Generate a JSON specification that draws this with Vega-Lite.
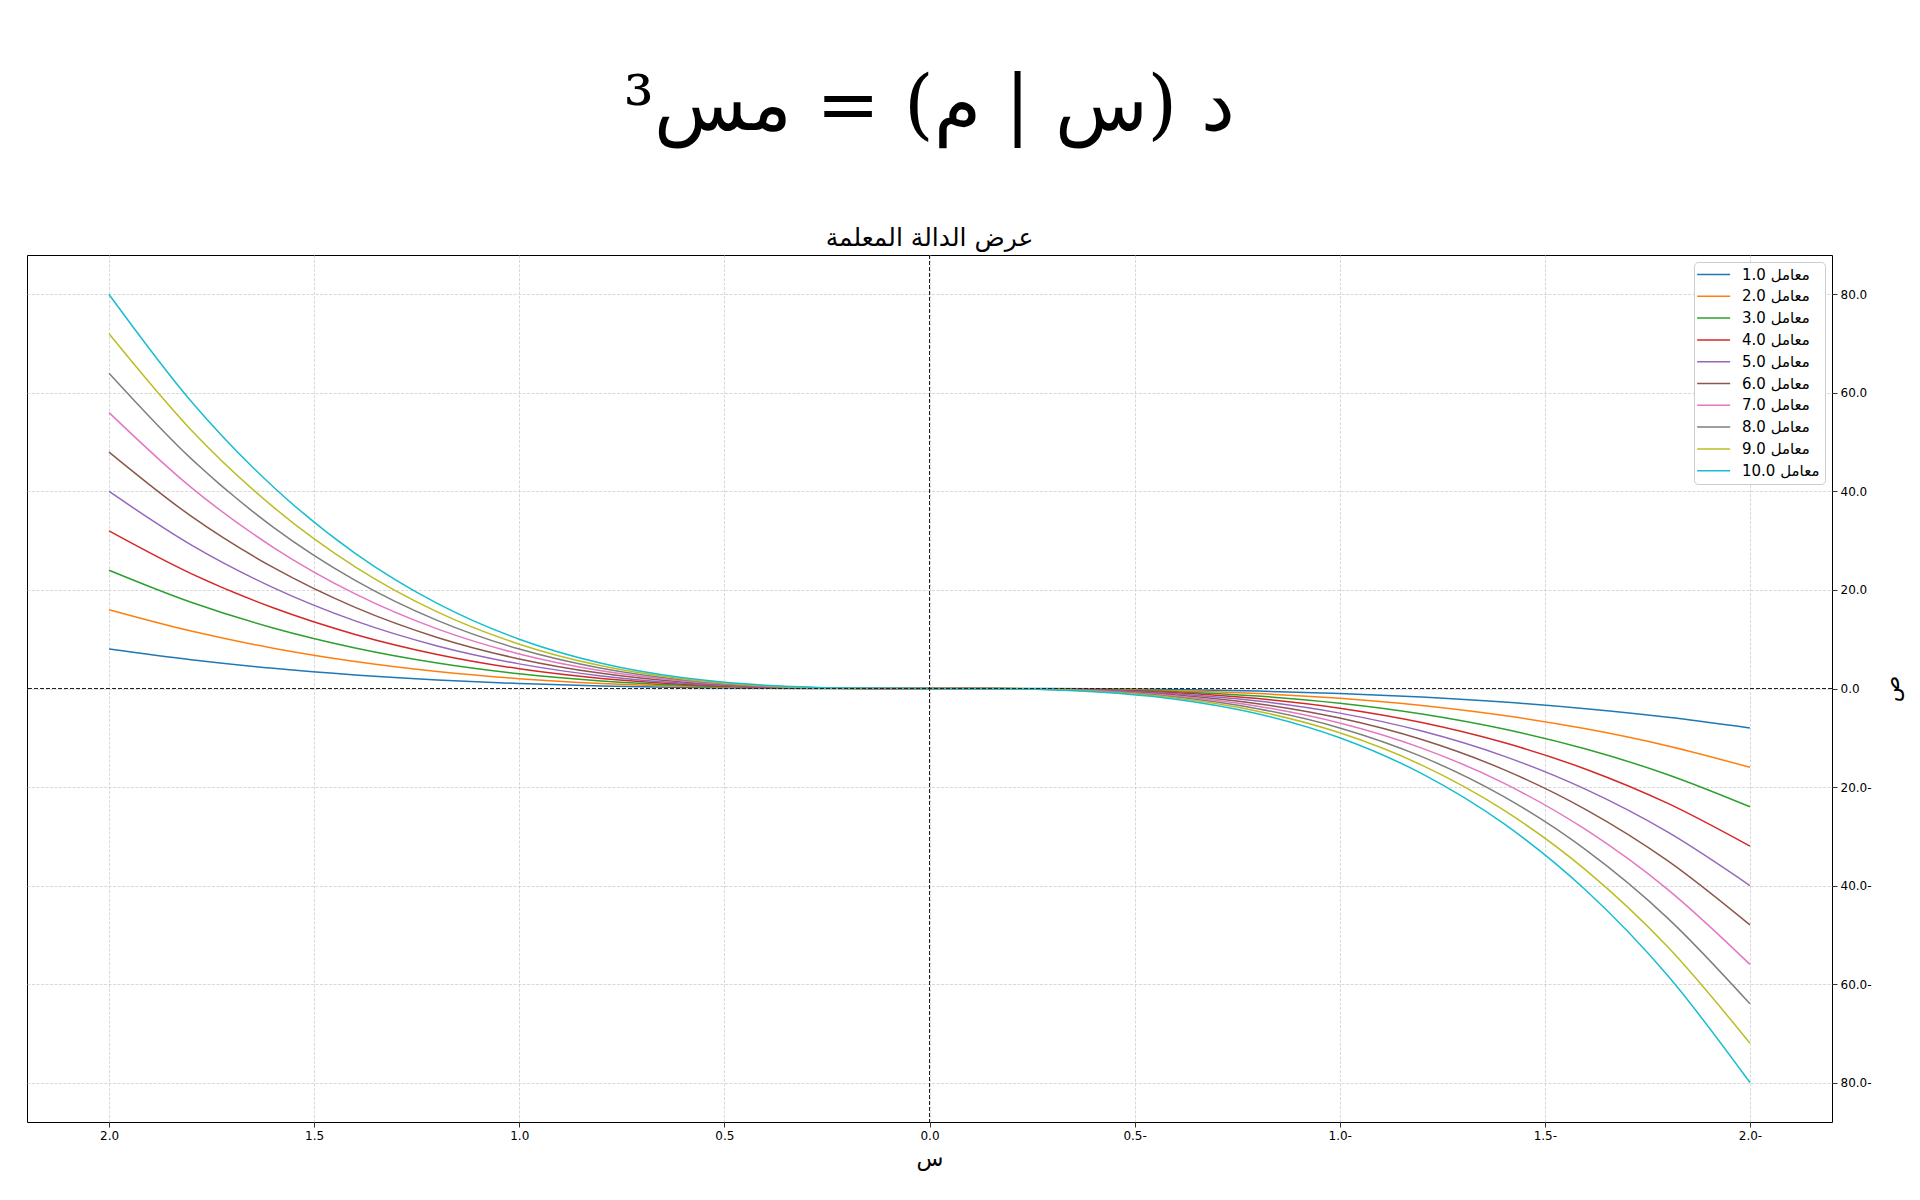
{
  "$schema": "https://vega.github.io/schema/vega-lite/v6.json",
  "width": 1805,
  "height": 867,
  "autosize": {"type": "none"},
  "padding": {"left": 27, "top": 255, "right": 88, "bottom": 78},
  "background": "white",
  "title": {
    "text": "د (س | م) = مس³",
    "subtitle": "عرض الدالة المعلمة",
    "anchor": "middle",
    "font": "DejaVu Serif",
    "fontSize": 76,
    "fontWeight": "normal",
    "color": "black",
    "subtitleFont": "DejaVu Sans",
    "subtitleFontSize": 25,
    "subtitleColor": "black",
    "subtitlePadding": 80,
    "offset": 3
  },
  "config": {
    "view": {"stroke": "black", "strokeWidth": 1},
    "axis": {
      "domain": false,
      "ticks": true,
      "tickColor": "black",
      "tickSize": 5,
      "tickWidth": 0.8,
      "labelColor": "black",
      "labelFont": "DejaVu Sans",
      "labelFontSize": 12,
      "labelPadding": 3,
      "grid": true,
      "gridColor": "#cfcfcf",
      "gridDash": [3, 1.5],
      "gridWidth": 0.8,
      "titleFont": "DejaVu Sans",
      "titleFontWeight": "normal",
      "titleColor": "black",
      "titleFontSize": 22
    },
    "legend": {
      "labelFont": "DejaVu Sans",
      "labelFontSize": 15,
      "labelColor": "black"
    }
  },
  "layer": [
    {
      "data": {"values": [
        {"m":1,"x":-2,"y":-8},{"m":1,"x":-1.8,"y":-5.832},{"m":1,"x":-1.6,"y":-4.096},{"m":1,"x":-1.4,"y":-2.744},{"m":1,"x":-1.2,"y":-1.728},{"m":1,"x":-1,"y":-1},{"m":1,"x":-0.8,"y":-0.512},{"m":1,"x":-0.6,"y":-0.216},{"m":1,"x":-0.4,"y":-0.064},{"m":1,"x":-0.2,"y":-0.008},{"m":1,"x":0,"y":0},{"m":1,"x":0.2,"y":0.008},{"m":1,"x":0.4,"y":0.064},{"m":1,"x":0.6,"y":0.216},{"m":1,"x":0.8,"y":0.512},{"m":1,"x":1,"y":1},{"m":1,"x":1.2,"y":1.728},{"m":1,"x":1.4,"y":2.744},{"m":1,"x":1.6,"y":4.096},{"m":1,"x":1.8,"y":5.832},{"m":1,"x":2,"y":8},
        {"m":2,"x":-2,"y":-16},{"m":2,"x":-1.8,"y":-11.664},{"m":2,"x":-1.6,"y":-8.192},{"m":2,"x":-1.4,"y":-5.488},{"m":2,"x":-1.2,"y":-3.456},{"m":2,"x":-1,"y":-2},{"m":2,"x":-0.8,"y":-1.024},{"m":2,"x":-0.6,"y":-0.432},{"m":2,"x":-0.4,"y":-0.128},{"m":2,"x":-0.2,"y":-0.016},{"m":2,"x":0,"y":0},{"m":2,"x":0.2,"y":0.016},{"m":2,"x":0.4,"y":0.128},{"m":2,"x":0.6,"y":0.432},{"m":2,"x":0.8,"y":1.024},{"m":2,"x":1,"y":2},{"m":2,"x":1.2,"y":3.456},{"m":2,"x":1.4,"y":5.488},{"m":2,"x":1.6,"y":8.192},{"m":2,"x":1.8,"y":11.664},{"m":2,"x":2,"y":16},
        {"m":3,"x":-2,"y":-24},{"m":3,"x":-1.8,"y":-17.496},{"m":3,"x":-1.6,"y":-12.288},{"m":3,"x":-1.4,"y":-8.232},{"m":3,"x":-1.2,"y":-5.184},{"m":3,"x":-1,"y":-3},{"m":3,"x":-0.8,"y":-1.536},{"m":3,"x":-0.6,"y":-0.648},{"m":3,"x":-0.4,"y":-0.192},{"m":3,"x":-0.2,"y":-0.024},{"m":3,"x":0,"y":0},{"m":3,"x":0.2,"y":0.024},{"m":3,"x":0.4,"y":0.192},{"m":3,"x":0.6,"y":0.648},{"m":3,"x":0.8,"y":1.536},{"m":3,"x":1,"y":3},{"m":3,"x":1.2,"y":5.184},{"m":3,"x":1.4,"y":8.232},{"m":3,"x":1.6,"y":12.288},{"m":3,"x":1.8,"y":17.496},{"m":3,"x":2,"y":24},
        {"m":4,"x":-2,"y":-32},{"m":4,"x":-1.8,"y":-23.328},{"m":4,"x":-1.6,"y":-16.384},{"m":4,"x":-1.4,"y":-10.976},{"m":4,"x":-1.2,"y":-6.912},{"m":4,"x":-1,"y":-4},{"m":4,"x":-0.8,"y":-2.048},{"m":4,"x":-0.6,"y":-0.864},{"m":4,"x":-0.4,"y":-0.256},{"m":4,"x":-0.2,"y":-0.032},{"m":4,"x":0,"y":0},{"m":4,"x":0.2,"y":0.032},{"m":4,"x":0.4,"y":0.256},{"m":4,"x":0.6,"y":0.864},{"m":4,"x":0.8,"y":2.048},{"m":4,"x":1,"y":4},{"m":4,"x":1.2,"y":6.912},{"m":4,"x":1.4,"y":10.976},{"m":4,"x":1.6,"y":16.384},{"m":4,"x":1.8,"y":23.328},{"m":4,"x":2,"y":32},
        {"m":5,"x":-2,"y":-40},{"m":5,"x":-1.8,"y":-29.16},{"m":5,"x":-1.6,"y":-20.48},{"m":5,"x":-1.4,"y":-13.72},{"m":5,"x":-1.2,"y":-8.64},{"m":5,"x":-1,"y":-5},{"m":5,"x":-0.8,"y":-2.56},{"m":5,"x":-0.6,"y":-1.08},{"m":5,"x":-0.4,"y":-0.32},{"m":5,"x":-0.2,"y":-0.04},{"m":5,"x":0,"y":0},{"m":5,"x":0.2,"y":0.04},{"m":5,"x":0.4,"y":0.32},{"m":5,"x":0.6,"y":1.08},{"m":5,"x":0.8,"y":2.56},{"m":5,"x":1,"y":5},{"m":5,"x":1.2,"y":8.64},{"m":5,"x":1.4,"y":13.72},{"m":5,"x":1.6,"y":20.48},{"m":5,"x":1.8,"y":29.16},{"m":5,"x":2,"y":40},
        {"m":6,"x":-2,"y":-48},{"m":6,"x":-1.8,"y":-34.992},{"m":6,"x":-1.6,"y":-24.576},{"m":6,"x":-1.4,"y":-16.464},{"m":6,"x":-1.2,"y":-10.368},{"m":6,"x":-1,"y":-6},{"m":6,"x":-0.8,"y":-3.072},{"m":6,"x":-0.6,"y":-1.296},{"m":6,"x":-0.4,"y":-0.384},{"m":6,"x":-0.2,"y":-0.048},{"m":6,"x":0,"y":0},{"m":6,"x":0.2,"y":0.048},{"m":6,"x":0.4,"y":0.384},{"m":6,"x":0.6,"y":1.296},{"m":6,"x":0.8,"y":3.072},{"m":6,"x":1,"y":6},{"m":6,"x":1.2,"y":10.368},{"m":6,"x":1.4,"y":16.464},{"m":6,"x":1.6,"y":24.576},{"m":6,"x":1.8,"y":34.992},{"m":6,"x":2,"y":48},
        {"m":7,"x":-2,"y":-56},{"m":7,"x":-1.8,"y":-40.824},{"m":7,"x":-1.6,"y":-28.672},{"m":7,"x":-1.4,"y":-19.208},{"m":7,"x":-1.2,"y":-12.096},{"m":7,"x":-1,"y":-7},{"m":7,"x":-0.8,"y":-3.584},{"m":7,"x":-0.6,"y":-1.512},{"m":7,"x":-0.4,"y":-0.448},{"m":7,"x":-0.2,"y":-0.056},{"m":7,"x":0,"y":0},{"m":7,"x":0.2,"y":0.056},{"m":7,"x":0.4,"y":0.448},{"m":7,"x":0.6,"y":1.512},{"m":7,"x":0.8,"y":3.584},{"m":7,"x":1,"y":7},{"m":7,"x":1.2,"y":12.096},{"m":7,"x":1.4,"y":19.208},{"m":7,"x":1.6,"y":28.672},{"m":7,"x":1.8,"y":40.824},{"m":7,"x":2,"y":56},
        {"m":8,"x":-2,"y":-64},{"m":8,"x":-1.8,"y":-46.656},{"m":8,"x":-1.6,"y":-32.768},{"m":8,"x":-1.4,"y":-21.952},{"m":8,"x":-1.2,"y":-13.824},{"m":8,"x":-1,"y":-8},{"m":8,"x":-0.8,"y":-4.096},{"m":8,"x":-0.6,"y":-1.728},{"m":8,"x":-0.4,"y":-0.512},{"m":8,"x":-0.2,"y":-0.064},{"m":8,"x":0,"y":0},{"m":8,"x":0.2,"y":0.064},{"m":8,"x":0.4,"y":0.512},{"m":8,"x":0.6,"y":1.728},{"m":8,"x":0.8,"y":4.096},{"m":8,"x":1,"y":8},{"m":8,"x":1.2,"y":13.824},{"m":8,"x":1.4,"y":21.952},{"m":8,"x":1.6,"y":32.768},{"m":8,"x":1.8,"y":46.656},{"m":8,"x":2,"y":64},
        {"m":9,"x":-2,"y":-72},{"m":9,"x":-1.8,"y":-52.488},{"m":9,"x":-1.6,"y":-36.864},{"m":9,"x":-1.4,"y":-24.696},{"m":9,"x":-1.2,"y":-15.552},{"m":9,"x":-1,"y":-9},{"m":9,"x":-0.8,"y":-4.608},{"m":9,"x":-0.6,"y":-1.944},{"m":9,"x":-0.4,"y":-0.576},{"m":9,"x":-0.2,"y":-0.072},{"m":9,"x":0,"y":0},{"m":9,"x":0.2,"y":0.072},{"m":9,"x":0.4,"y":0.576},{"m":9,"x":0.6,"y":1.944},{"m":9,"x":0.8,"y":4.608},{"m":9,"x":1,"y":9},{"m":9,"x":1.2,"y":15.552},{"m":9,"x":1.4,"y":24.696},{"m":9,"x":1.6,"y":36.864},{"m":9,"x":1.8,"y":52.488},{"m":9,"x":2,"y":72},
        {"m":10,"x":-2,"y":-80},{"m":10,"x":-1.8,"y":-58.32},{"m":10,"x":-1.6,"y":-40.96},{"m":10,"x":-1.4,"y":-27.44},{"m":10,"x":-1.2,"y":-17.28},{"m":10,"x":-1,"y":-10},{"m":10,"x":-0.8,"y":-5.12},{"m":10,"x":-0.6,"y":-2.16},{"m":10,"x":-0.4,"y":-0.64},{"m":10,"x":-0.2,"y":-0.08},{"m":10,"x":0,"y":0},{"m":10,"x":0.2,"y":0.08},{"m":10,"x":0.4,"y":0.64},{"m":10,"x":0.6,"y":2.16},{"m":10,"x":0.8,"y":5.12},{"m":10,"x":1,"y":10},{"m":10,"x":1.2,"y":17.28},{"m":10,"x":1.4,"y":27.44},{"m":10,"x":1.6,"y":40.96},{"m":10,"x":1.8,"y":58.32},{"m":10,"x":2,"y":80}
      ]},
      "mark": {"type": "line", "strokeWidth": 1.5, "interpolate": "monotone"},
      "encoding": {
        "x": {
          "field": "x", "type": "quantitative",
          "scale": {"domain": [-2.2, 2.2], "reverse": true, "nice": false, "zero": false},
          "axis": {
            "orient": "bottom",
            "title": "س",
            "titlePadding": 7,
            "values": [-2, -1.5, -1, -0.5, 0, 0.5, 1, 1.5, 2],
            "labelExpr": "datum.value < 0 ? format(-datum.value, '.1f') + '-' : format(datum.value, '.1f')"
          }
        },
        "y": {
          "field": "y", "type": "quantitative",
          "scale": {"domain": [-88, 88], "nice": false, "zero": false},
          "axis": {
            "orient": "right",
            "title": "ص",
            "titleAngle": -90,
            "titlePadding": 32,
            "values": [-80, -60, -40, -20, 0, 20, 40, 60, 80],
            "labelExpr": "datum.value < 0 ? format(-datum.value, '.1f') + '-' : format(datum.value, '.1f')"
          }
        },
        "color": {
          "field": "m", "type": "nominal",
          "scale": {
            "domain": [1, 2, 3, 4, 5, 6, 7, 8, 9, 10],
            "range": ["#1f77b4", "#ff7f0e", "#2ca02c", "#d62728", "#9467bd", "#8c564b", "#e377c2", "#7f7f7f", "#bcbd22", "#17becf"]
          },
          "legend": {
            "title": null,
            "orient": "top-right",
            "offset": 7,
            "padding": 5,
            "fillColor": "white",
            "strokeColor": "#cccccc",
            "cornerRadius": 4,
            "symbolType": "M-1.7,0H4.3",
            "symbolSize": 121,
            "symbolStrokeWidth": 1.5,
            "rowPadding": 5.8,
            "labelOffset": 28,
            "labelExpr": "'معامل ' + format(datum.value, '.1f')"
          }
        }
      }
    },
    {
      "data": {"values": [{}]},
      "mark": {"type": "rule", "color": "#222222", "strokeWidth": 1, "strokeDash": [4, 2]},
      "encoding": {"y": {"datum": 0}}
    },
    {
      "data": {"values": [{}]},
      "mark": {"type": "rule", "color": "#222222", "strokeWidth": 1, "strokeDash": [4, 2]},
      "encoding": {"x": {"datum": 0}}
    }
  ]
}
